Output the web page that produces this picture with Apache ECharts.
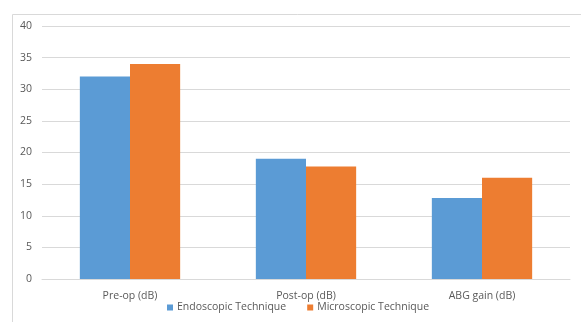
<!DOCTYPE html>
<html>
<head>
<meta charset="utf-8">
<script src="https://cdn.jsdelivr.net/npm/echarts@6/dist/echarts.min.js"></script>
<style>
  html, body { margin: 0; padding: 0; background: #fff; }
  #chart { width: 581px; height: 322px; }
</style>
</head>
<body>
<div id="chart"></div>
<script>
// Hearing outcome categories (dB)
const categories = ['Pre-op (dB)', 'Post-op (dB)', 'ABG gain (dB)'];
const endoscopic = [32, 19, 12.8];
const microscopic = [34, 17.8, 16];
const yTicks = { min: 0, max: 40, interval: 5 };

const chart = echarts.init(document.getElementById('chart'), null, { renderer: 'canvas' });
const labelFont = { color: '#595959', fontSize: 10.5, fontFamily: 'Open Sans' };

chart.setOption({
  animation: false,
  graphic: [{
    type: 'rect',
    shape: { x: 12.5, y: 14.5, width: 600, height: 400 },
    style: { fill: 'none', stroke: '#d9d9d9', lineWidth: 1 },
    silent: true
  }],
  grid: { left: 42, right: 11, top: 26, bottom: 43, containLabel: false },
  legend: {
    top: 302,
    left: 167,
    padding: 0,
    itemWidth: 6,
    itemHeight: 6,
    itemGap: 21,
    icon: 'rect',
    textStyle: Object.assign({ padding: [0, 0, 0, -1] }, labelFont),
    data: ['Endoscopic Technique', 'Microscopic Technique']
  },
  xAxis: {
    type: 'category',
    data: categories,
    axisLine: { lineStyle: { color: '#d9d9d9' } },
    axisTick: { show: false },
    axisLabel: Object.assign({ margin: 12 }, labelFont)
  },
  yAxis: {
    type: 'value',
    min: yTicks.min,
    max: yTicks.max,
    interval: yTicks.interval,
    axisLine: { show: false },
    axisTick: { show: false },
    splitLine: { lineStyle: { color: '#d9d9d9' } },
    axisLabel: Object.assign({ margin: 10 }, labelFont)
  },
  series: [
    {
      name: 'Endoscopic Technique',
      type: 'bar',
      data: endoscopic,
      barGap: '0%',
      barCategoryGap: '43%',
      itemStyle: { color: '#5b9bd5' }
    },
    {
      name: 'Microscopic Technique',
      type: 'bar',
      data: microscopic,
      itemStyle: { color: '#ed7d31' }
    }
  ]
});
</script>
</body>
</html>
